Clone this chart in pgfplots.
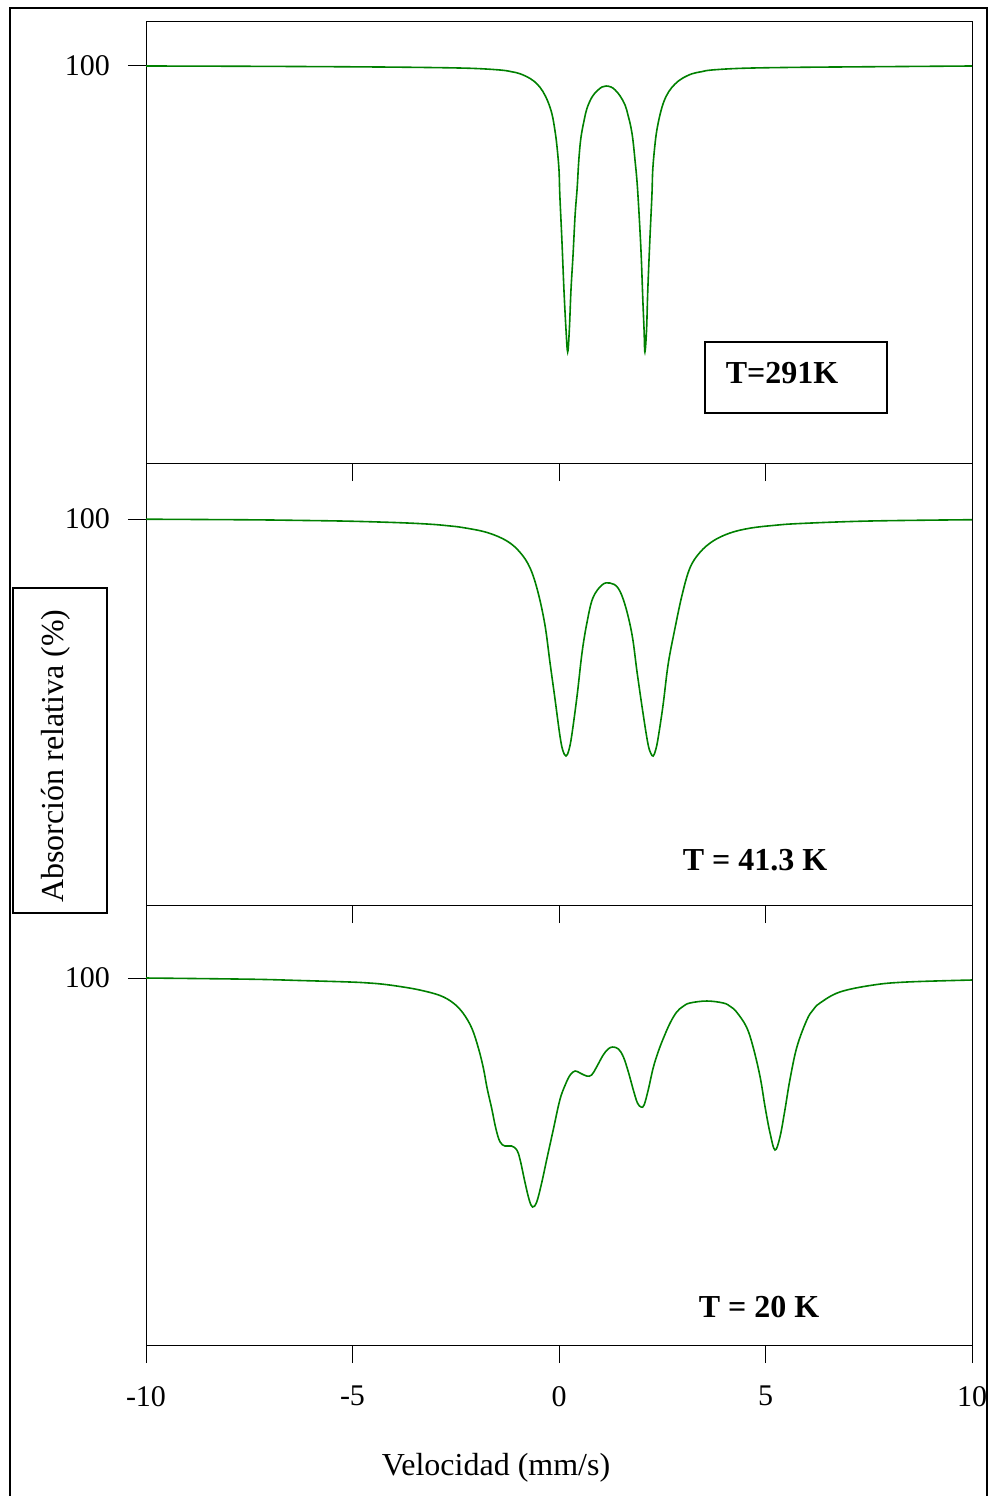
\documentclass[border=0pt]{standalone}
\usepackage{fontspec}
\setmainfont{Liberation Serif}
\usepackage{pgfplots}
\pgfplotsset{compat=1.18}
\definecolor{specgreen}{RGB}{0,128,0}
\begin{document}
\begin{tikzpicture}
\useasboundingbox (0,0) rectangle (496pt,-748pt);
\pgfplotsset{
  panel/.style={
    scale only axis, width=413pt, anchor=south west,
    xmin=-10, xmax=10,
    xtick={-10,-5,0,5,10}, xtick pos=bottom,
    ytick={100}, yticklabels={100}, ytick pos=left,
    tick align=outside, major tick length=9pt,
    axis line style={line width=0.5pt},
    tick style={black, line width=0.5pt},
    tick label style={font=\fontsize{15}{18}\selectfont},
    yticklabel style={xshift=-5.5pt},
    xticklabel style={yshift=-8pt},
  },
  specline/.style={color=specgreen, line width=0.8pt, smooth, tension=0.6, mark=none}
}
% Panel 1
\begin{axis}[panel, at={(73pt,-231.5pt)}, height=220.5pt, ymin=60.3, ymax=104.4, xticklabels={}]
\addplot[specline] coordinates {
(-10,100.0) (-7.48,99.97) (-5.06,99.92) (-3.37,99.86) (-2.15,99.77) (-1.43,99.6) (-1.15,99.43) (-0.94,99.22) (-0.70,98.75) (-0.53,98.2) (-0.39,97.45) (-0.27,96.45) (-0.17,95.2) (-0.10,93.6) (-0.05,92.0) (0.00,89.6) (0.02,87.1) (0.07,82.6) (0.12,77.6) (0.17,73.6) (0.21,71.4) (0.25,73.6) (0.29,77.6) (0.34,81.1) (0.39,85.1) (0.44,87.8) (0.48,90.6) (0.53,92.8) (0.61,94.6) (0.68,95.8) (0.80,96.9) (0.92,97.5) (1.04,97.9) (1.14,98.0) (1.26,97.9) (1.36,97.6) (1.48,97.0) (1.60,96.1) (1.67,95.1) (1.74,93.9) (1.79,92.6) (1.84,90.6) (1.89,88.4) (1.94,85.1) (1.99,81.1) (2.03,76.6) (2.06,73.6) (2.08,71.4) (2.12,73.6) (2.15,77.6) (2.20,82.6) (2.25,87.1) (2.27,89.6) (2.32,92.0) (2.37,93.6) (2.45,95.2) (2.54,96.45) (2.66,97.45) (2.81,98.2) (2.98,98.75) (3.22,99.22) (3.45,99.43) (3.70,99.6) (4.43,99.77) (5.64,99.86) (7.34,99.92) (10,100.0)
};
\end{axis}
% Panel 2
\begin{axis}[panel, at={(73pt,-452.5pt)}, height=221pt, ymin=61.4, ymax=105.6, xticklabels={}]
\addplot[specline] coordinates {
(-10,99.98) (-7.48,99.92) (-6.27,99.86) (-5.06,99.78) (-3.85,99.63) (-3.12,99.48) (-2.70,99.33) (-2.32,99.14) (-1.74,98.65) (-1.26,97.8) (-0.94,96.65) (-0.70,95.1) (-0.51,92.7) (-0.34,89.4) (-0.22,85.7) (-0.10,82.1) (0.02,78.4) (0.09,76.9) (0.17,76.3) (0.24,76.9) (0.31,78.4) (0.44,82.4) (0.56,86.7) (0.68,89.7) (0.82,92.1) (1.04,93.4) (1.23,93.6) (1.43,93.1) (1.60,91.4) (1.77,88.4) (1.89,84.7) (2.03,80.7) (2.15,77.6) (2.22,76.6) (2.28,76.3) (2.34,76.9) (2.40,78.1) (2.52,81.4) (2.64,85.4) (2.79,88.7) (2.98,92.4) (3.17,95.1) (3.41,96.65) (3.73,97.8) (4.14,98.6) (4.62,99.08) (5.20,99.36) (5.84,99.55) (7.53,99.8) (10,99.93)
};
\end{axis}
% Panel 3
\begin{axis}[panel, at={(73pt,-672.5pt)}, height=220pt, ymin=63.3, ymax=107.3,
  xticklabels={{-10},{-5},{0},{5},{10}}]
\addplot[specline] coordinates {
(-10,100.0) (-7.48,99.88) (-6.27,99.75) (-5.06,99.6) (-4.60,99.5) (-4.26,99.38) (-3.85,99.15) (-3.37,98.8) (-2.88,98.25) (-2.56,97.5) (-2.32,96.47) (-2.11,94.97) (-1.95,92.97) (-1.83,90.97) (-1.74,88.97) (-1.63,86.97) (-1.53,84.97) (-1.43,83.63) (-1.31,83.2) (-1.15,83.2) (-1.02,82.8) (-0.94,81.8) (-0.82,79.5) (-0.72,77.8) (-0.64,77.1) (-0.54,77.6) (-0.42,79.5) (-0.30,81.8) (-0.14,84.8) (0.02,87.8) (0.15,89.3) (0.27,90.3) (0.39,90.7) (0.51,90.5) (0.67,90.2) (0.79,90.3) (0.91,91.1) (1.07,92.3) (1.19,92.9) (1.30,93.1) (1.44,92.9) (1.56,92.1) (1.68,90.6) (1.80,88.8) (1.90,87.5) (1.99,87.1) (2.06,87.3) (2.16,88.8) (2.28,91.0) (2.40,92.6) (2.53,94.0) (2.69,95.5) (2.85,96.6) (3.00,97.15) (3.17,97.5) (3.58,97.7) (3.98,97.5) (4.15,97.15) (4.30,96.6) (4.54,95.1) (4.70,93.1) (4.87,90.1) (4.99,87.1) (5.11,84.5) (5.23,82.8) (5.35,84.1) (5.47,86.8) (5.59,89.8) (5.76,93.1) (6.00,95.8) (6.15,96.8) (6.32,97.5) (6.80,98.6) (7.61,99.3) (8.42,99.6) (10,99.8)
};
\end{axis}
% frame and annotations
\draw[line width=1.3pt] (5pt,-760pt) -- (5pt,-4pt) -- (493.5pt,-4pt) -- (493.5pt,-760pt);
\node[font=\fontsize{16}{19}\selectfont] at (248pt,-734pt) {Velocidad (mm/s)};
\draw[line width=1pt] (6.5pt,-294pt) rectangle (53.5pt,-456.5pt);
\node[rotate=90, font=\fontsize{16}{19}\selectfont] at (27.75pt,-378pt) {Absorción relativa (\%)};
\draw[line width=1pt] (352.5pt,-171pt) rectangle (443.5pt,-206.5pt);
\node[font=\fontsize{16}{19}\selectfont\bfseries] at (391pt,-186.5pt) {T=291K};
\node[font=\fontsize{16}{19}\selectfont\bfseries] at (377.5pt,-430pt) {T = 41.3 K};
\node[font=\fontsize{16}{19}\selectfont\bfseries] at (379.5pt,-653.5pt) {T = 20 K};
\end{tikzpicture}
\end{document}
